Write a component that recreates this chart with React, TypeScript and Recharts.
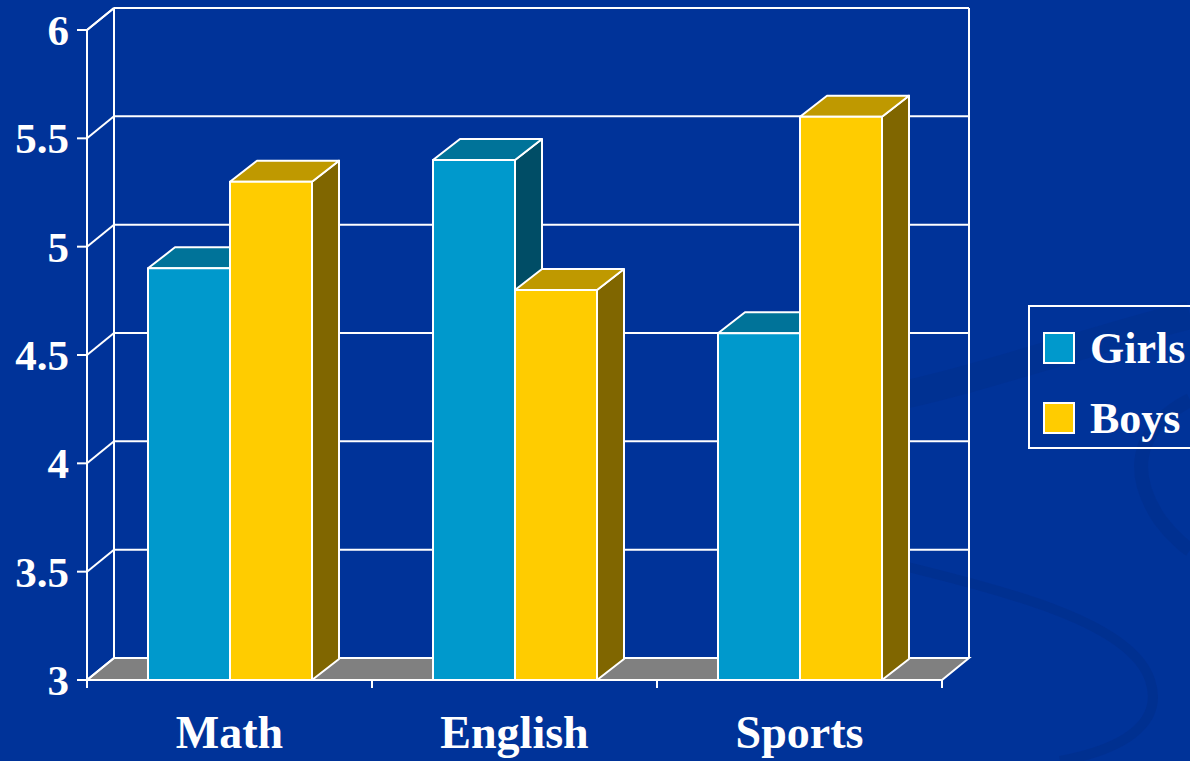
import { Bar, BarChart, CartesianGrid, Legend, XAxis, YAxis } from "recharts";

const subjects = ["Math", "English", "Sports"];
const girls = [4.9, 5.4, 4.6];
const boys = [5.3, 4.8, 5.6];
const yTicks = [3, 3.5, 4, 4.5, 5, 5.5, 6];

const data = subjects.map((subject, i) => ({ subject, girls: girls[i], boys: boys[i] }));

const FONT = "'Liberation Serif', 'Times New Roman', serif";
const BG = "#003399";
const DX = 27;
const DY = -22;
const BAR_DY = -21;

const make3DBar = (front: string, top: string, side: string) => (props: any) => {
  const { x, y, width, height } = props;
  if (height == null || width == null) return null;
  const x2 = x + width;
  const yb = y + height;
  return (
    <g stroke="#fff" strokeWidth={2} strokeLinejoin="round">
      <polygon points={`${x2},${y} ${x2 + DX},${y + BAR_DY} ${x2 + DX},${yb + BAR_DY} ${x2},${yb}`} fill={side} />
      <polygon points={`${x},${y} ${x2},${y} ${x2 + DX},${y + BAR_DY} ${x + DX},${y + BAR_DY}`} fill={top} />
      <rect x={x} y={y} width={width} height={height} fill={front} />
    </g>
  );
};

const GirlsBar = make3DBar("#0099cc", "#007399", "#004d66");
const BoysBar = make3DBar("#ffcc00", "#bf9900", "#806600");

// grid lines drawn as a 3D box: side-wall diagonal + back-wall line
const gridLine = (props: any) => {
  const { x1, y1, x2, index, x, y, width, height } = props;
  const key = `gl-${index ?? y1}`;
  const walls = index === 0 || index == null;
  const bottom = y + height;
  return (
    <g key={key} stroke="#fff" strokeWidth={2} fill="none">
      {walls && (
        <>
          <polygon
            points={`${x},${bottom} ${x + width},${bottom} ${x + width + DX},${bottom + DY} ${x + DX},${bottom + DY}`}
            fill="#808080"
          />
          <line x1={x + DX} y1={y + DY} x2={x + DX} y2={bottom + DY} />
          <line x1={x + width + DX} y1={y + DY} x2={x + width + DX} y2={bottom + DY} />
          <line x1={x} y1={y} x2={x + DX} y2={y + DY} />
          <line x1={x + DX} y1={y + DY} x2={x + width + DX} y2={y + DY} />
        </>
      )}
      <line x1={x1} y1={y1} x2={x1 + DX} y2={y1 + DY} />
      <line x1={x1 + DX} y1={y1 + DY} x2={x2 + DX} y2={y1 + DY} />
    </g>
  );
};

const YTick = (props: any) => {
  const { x, y, payload } = props;
  return (
    <text x={x} y={y} dy={15} textAnchor="end" fill="#fff" fontFamily={FONT} fontWeight="bold" fontSize={43}>
      {payload.value}
    </text>
  );
};

const XTick = (props: any) => {
  const { x, y, payload, index, visibleTicksCount } = props;
  const half = payload.offset || (1190 - 87 - 248) / 6;
  const last = index === (visibleTicksCount ?? subjects.length) - 1;
  return (
    <g>
      <line x1={x - half} y1={y - 8} x2={x - half} y2={y} stroke="#fff" strokeWidth={2} />
      {last && <line x1={x + half} y1={y - 8} x2={x + half} y2={y} stroke="#fff" strokeWidth={2} />}
      <text x={x} y={y} dy={60} textAnchor="middle" fill="#fff" fontFamily={FONT} fontWeight="bold" fontSize={46}>
        {payload.value}
      </text>
    </g>
  );
};

const LegendBox = () => (
  <svg width={162} height={145} style={{ display: "block" }}>
    <rect x={1} y={1} width={200} height={142} fill="none" stroke="#fff" strokeWidth={2} />
    <rect x={16} y={28} width={30} height={30} fill="#0099cc" stroke="#fff" strokeWidth={2} />
    <rect x={16} y={98} width={30} height={30} fill="#ffcc00" stroke="#fff" strokeWidth={2} />
    <text x={62} y={58} fill="#fff" fontFamily={FONT} fontWeight="bold" fontSize={44}>
      Girls
    </text>
    <text x={62} y={128} fill="#fff" fontFamily={FONT} fontWeight="bold" fontSize={44}>
      Boys
    </text>
  </svg>
);

export default function App() {
  return (
    <div style={{ width: 1190, height: 761, background: BG, overflow: "hidden", position: "relative" }}>
      <style>{`body{margin:0}`}</style>
      {/* faint swoosh in the slide background */}
      <svg width={1190} height={761} style={{ position: "absolute", left: 0, top: 0 }}>
        <path d="M880,560 C1000,590 1130,620 1150,680 C1165,725 1120,750 1060,761" fill="none" stroke="#002a80" strokeOpacity={0.35} strokeWidth={10} />
        <path d="M880,400 C980,380 1090,340 1190,315" fill="none" stroke="#002a80" strokeOpacity={0.25} strokeWidth={28} />
        <path d="M1190,400 C1150,420 1120,460 1160,520 C1175,540 1190,550 1190,550" fill="none" stroke="#002a80" strokeOpacity={0.3} strokeWidth={14} />
      </svg>
      <BarChart
        width={1190}
        height={761}
        data={data}
        margin={{ top: 30, right: 248, bottom: 0, left: 0 }}
        barCategoryGap={61}
        barGap={0}
      >
        <CartesianGrid vertical={false} horizontal={gridLine} stroke="#fff" />
        <XAxis
          dataKey="subject"
          height={81}
          interval={0}
          axisLine={{ stroke: "#fff", strokeWidth: 2 }}
          tickLine={false}
          tickSize={6}
          tickMargin={2}
          tick={<XTick />}
        />
        <YAxis
          type="number"
          domain={[3, 6]}
          ticks={yTicks}
          width={87}
          interval={0}
          axisLine={{ stroke: "#fff", strokeWidth: 2 }}
          tickLine={{ stroke: "#fff", strokeWidth: 2 }}
          tickSize={10}
          tickMargin={8}
          tick={<YTick />}
        />
        <Bar dataKey="girls" name="Girls" fill="#0099cc" shape={GirlsBar} isAnimationActive={false} />
        <Bar dataKey="boys" name="Boys" fill="#ffcc00" shape={BoysBar} isAnimationActive={false} />
        <Legend
          layout="horizontal"
          verticalAlign="middle"
          align="center"
          wrapperStyle={{ left: 1028, top: 305, width: 162, height: 145 }}
          content={<LegendBox />}
        />
      </BarChart>
    </div>
  );
}
